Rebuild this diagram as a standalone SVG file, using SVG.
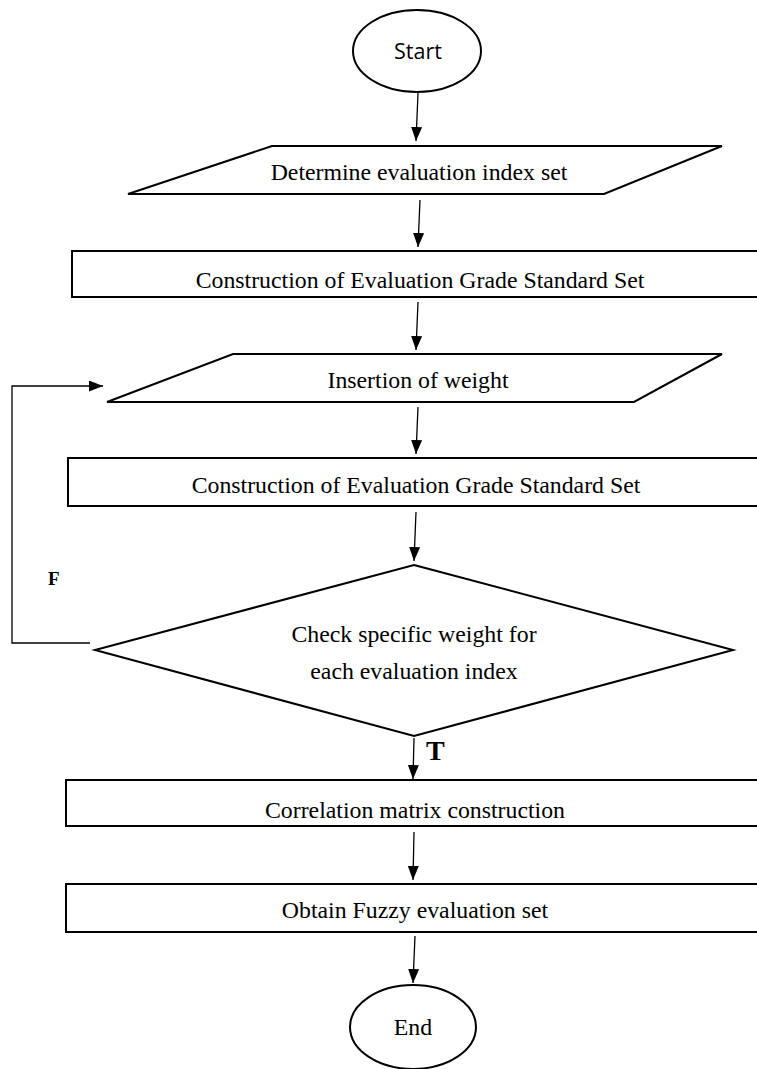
<svg xmlns="http://www.w3.org/2000/svg" width="757" height="1069" viewBox="0 0 757 1069">
  <style>
    .shape { fill: #ffffff; stroke: #000000; stroke-width: 2; }
    .link { fill: none; stroke: #000000; stroke-width: 1.3; }
    .lbl { font-family: "Liberation Serif", "Times New Roman", serif; font-size: 23.8px; fill: #000000; text-anchor: middle; }
    .sans { font-family: "Open Sans", "Noto Sans", "DejaVu Sans", sans-serif; font-size: 21.5px; fill: #000000; text-anchor: middle; }
    .flag { font-family: "Liberation Serif", "Times New Roman", serif; font-weight: bold; fill: #000000; }
  </style>
  <defs>
    <marker id="arrowL" viewBox="0 0 10 10" refX="10" refY="5" markerWidth="14" markerHeight="11" markerUnits="userSpaceOnUse" orient="auto" preserveAspectRatio="none">
      <path d="M0,0 L10,5 L0,10 Z" fill="#000000"/>
    </marker>
  </defs>

  <rect width="757" height="1069" fill="#ffffff"/>

  <g id="connectors">
    <line class="link" x1="418" y1="93" x2="416" y2="141" marker-end="url(#arrowL)"/>
    <line class="link" x1="420" y1="200" x2="418" y2="247" marker-end="url(#arrowL)"/>
    <line class="link" x1="418" y1="302" x2="416" y2="350" marker-end="url(#arrowL)"/>
    <line class="link" x1="418" y1="407" x2="416" y2="454" marker-end="url(#arrowL)"/>
    <line class="link" x1="416" y1="512" x2="414" y2="561" marker-end="url(#arrowL)"/>
    <line class="link" x1="414" y1="738" x2="413" y2="779" marker-end="url(#arrowL)"/>
    <line class="link" x1="414" y1="832" x2="413" y2="880" marker-end="url(#arrowL)"/>
    <line class="link" x1="415" y1="936" x2="413" y2="983" marker-end="url(#arrowL)"/>
    <!-- false branch: back to weight insertion -->
    <polyline class="link" points="90,643 12,643 12,386 103,386" marker-end="url(#arrowL)"/>
  </g>

  <g id="start">
    <ellipse class="shape" cx="417" cy="51" rx="64" ry="41"/>
    <text class="sans" x="418" y="59">Start</text>
  </g>

  <g id="index-set">
    <polygon class="shape" points="272,146 722,146 604,194 128,194"/>
    <text class="lbl" x="419" y="180">Determine evaluation index set</text>
  </g>

  <g id="grade-set">
    <rect class="shape" x="72" y="251" width="700" height="46"/>
    <text class="lbl" x="420" y="288">Construction of Evaluation Grade Standard Set</text>
  </g>

  <g id="weight">
    <polygon class="shape" points="233,354 722,354 634,402 107,402"/>
    <text class="lbl" x="418" y="388">Insertion of weight</text>
  </g>

  <g id="grade-set-2">
    <rect class="shape" x="68" y="458" width="704" height="48"/>
    <text class="lbl" x="416" y="493">Construction of Evaluation Grade Standard Set</text>
  </g>

  <g id="check">
    <polygon class="shape" points="414,565 733,650 414,736 95,650"/>
    <text class="lbl" x="414" y="642">Check specific weight for</text>
    <text class="lbl" x="414" y="679">each evaluation index</text>
  </g>

  <g id="correlation">
    <rect class="shape" x="66" y="780" width="706" height="46"/>
    <text class="lbl" x="415" y="818">Correlation matrix construction</text>
  </g>

  <g id="fuzzy-set">
    <rect class="shape" x="66" y="884" width="706" height="48"/>
    <text class="lbl" x="415" y="918">Obtain Fuzzy evaluation set</text>
  </g>

  <g id="end">
    <ellipse class="shape" cx="413" cy="1027" rx="63" ry="42"/>
    <text class="lbl" x="413" y="1035">End</text>
  </g>

  <g id="flags">
    <text class="flag" x="48" y="585" font-size="19">F</text>
    <text class="flag" x="426" y="760" font-size="28">T</text>
  </g>
</svg>
